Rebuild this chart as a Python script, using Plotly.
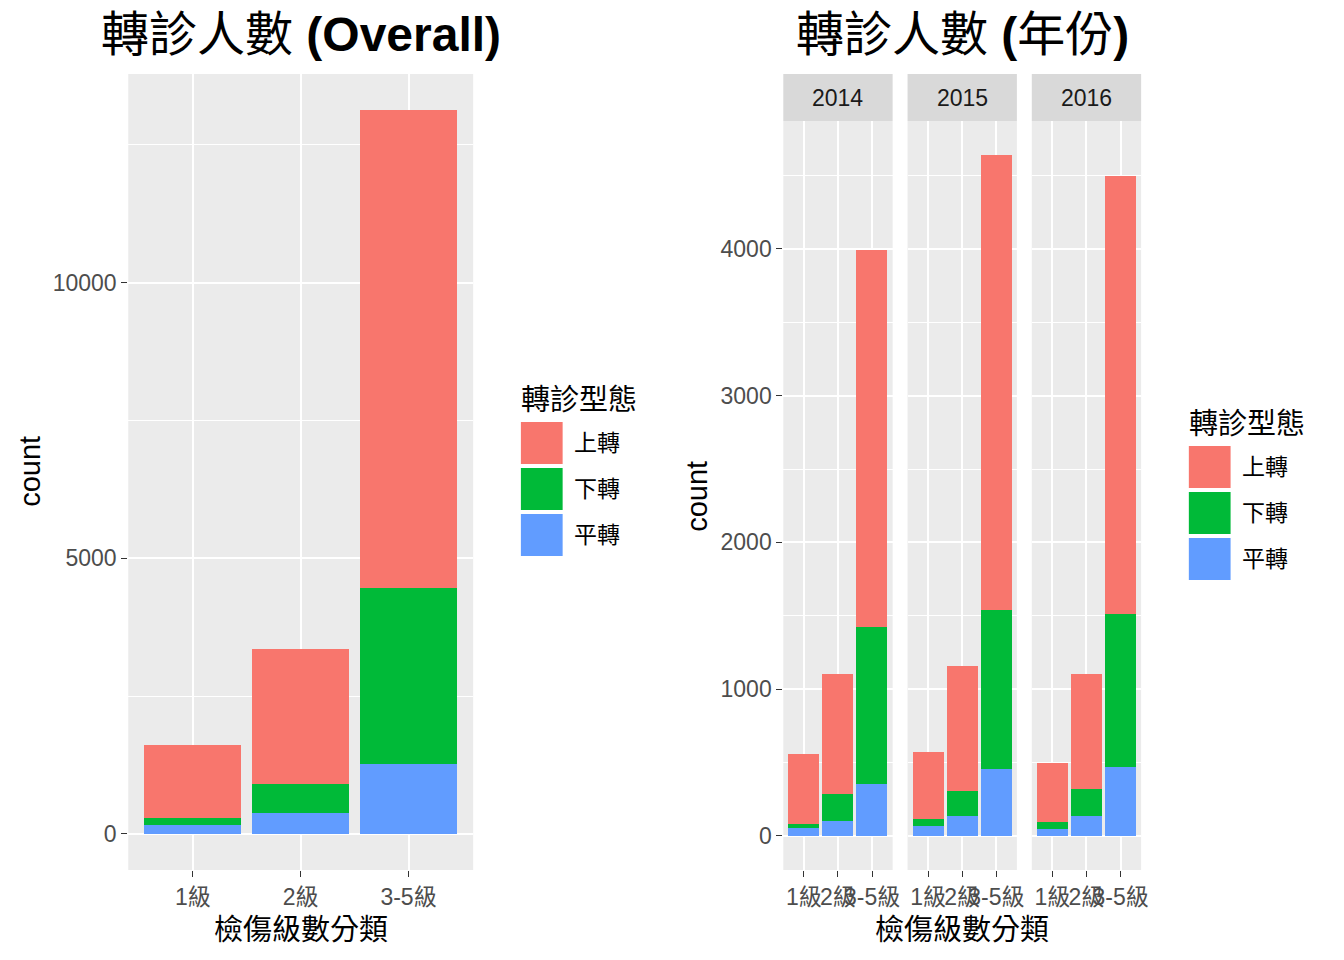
import plotly.graph_objects as go

# categories and series
grades = ["1級", "2級", "3-5級"]
years = ["2014", "2015", "2016"]
types = ["上轉", "下轉", "平轉"]
colors = {"上轉": "#F8766D", "下轉": "#00BA38", "平轉": "#619CFF"}

# counts per year
flat_2014 = [52, 102, 352]
down_2014 = [28, 182, 1070]
up_2014 = [477, 818, 2571]

flat_2015 = [66, 134, 454]
down_2015 = [48, 170, 1083]
up_2015 = [455, 852, 3102]

flat_2016 = [46, 134, 467]
down_2016 = [47, 184, 1043]
up_2016 = [401, 784, 2987]

by_year = {
    "2014": {"上轉": up_2014, "下轉": down_2014, "平轉": flat_2014},
    "2015": {"上轉": up_2015, "下轉": down_2015, "平轉": flat_2015},
    "2016": {"上轉": up_2016, "下轉": down_2016, "平轉": flat_2016},
}

# the page body keeps its default 8px margin on every side, so the figure
# is made small enough that the page never needs scrollbars
OFF = 8
W, H = 1344 - 2 * OFF, 960 - 2 * OFF
FONT = "Liberation Sans, Arial, Noto Sans CJK TC"


def px(x):
    return (x - OFF) / W


def py(y):
    return 1 - (y - OFF) / H


fig = go.Figure()

# Overall panel: totals across years, stacked bottom-up 平轉, 下轉, 上轉
for t in ["平轉", "下轉", "上轉"]:
    total = [sum(by_year[y][t][i] for y in years) for i in range(3)]
    fig.add_trace(go.Bar(x=grades, y=total, marker=dict(color=colors[t], line=dict(width=0)),
                         width=0.9, xaxis="x", yaxis="y", showlegend=False, name=t))

# Faceted panels
for k, yr in enumerate(years):
    xa = "x" + str(k + 2)
    ya = "y" + str(k + 2)
    for t in ["平轉", "下轉", "上轉"]:
        fig.add_trace(go.Bar(x=grades, y=by_year[yr][t], marker=dict(color=colors[t], line=dict(width=0)),
                             width=0.9, xaxis=xa, yaxis=ya, showlegend=False, name=t))

grid = dict(showgrid=True, gridcolor="white", gridwidth=1.6, zeroline=False, showline=False)
tickfont = dict(family=FONT, size=23, color="#4D4D4D")

layout = dict(
    width=W, height=H, autosize=False, barmode="stack", bargap=0,
    margin=dict(l=0, r=0, t=0, b=0),
    paper_bgcolor="white", plot_bgcolor="#EBEBEB",
    font=dict(family=FONT),
    showlegend=False,
)

# left panel axes
layout["xaxis"] = dict(domain=[px(129), px(476)], anchor="y", type="category", range=[-0.6, 2.6],
                       ticks="outside", ticklen=6, tickcolor="#333333", tickfont=tickfont, tickangle=0, **grid)
layout["yaxis"] = dict(domain=[py(870), py(74)], anchor="x", range=[-656, 13785],
                       tickvals=[0, 5000, 10000], ticktext=["0", "5000", "10000"],
                       ticks="outside", ticklen=6, tickcolor="#333333",
                       tickfont=tickfont,
                       minor=dict(tickvals=[2500, 7500, 12500], showgrid=True, gridcolor="white", gridwidth=0.8),
                       **grid)

facet_x = [(788, 898), (913, 1023), (1038, 1148)]
for k, (x0, x1) in enumerate(facet_x):
    n = str(k + 2)
    layout["xaxis" + n] = dict(domain=[px(x0), px(x1)], anchor="y" + n, type="category", range=[-0.6, 2.6],
                               ticks="outside", ticklen=6, tickcolor="#333333", tickfont=tickfont,
                               tickangle=0, **grid)
    layout["yaxis" + n] = dict(domain=[py(870), py(121)], anchor="x" + n, range=[-232, 4871],
                               tickvals=[0, 1000, 2000, 3000, 4000],
                               ticktext=["0", "1000", "2000", "3000", "4000"],
                               ticks="outside" if k == 0 else "", ticklen=6, tickcolor="#333333",
                               showticklabels=(k == 0), tickfont=tickfont,
                               minor=dict(tickvals=[500, 1500, 2500, 3500, 4500], showgrid=True,
                                          gridcolor="white", gridwidth=0.8),
                               **grid)

fig.update_layout(**layout)

shapes = []
annotations = []

# facet strips
for (x0, x1), yr in zip(facet_x, years):
    shapes.append(dict(type="rect", xref="paper", yref="paper", x0=px(x0), x1=px(x1), y0=py(121), y1=py(74),
                       fillcolor="#D9D9D9", line=dict(width=0), layer="below"))
    annotations.append(dict(x=px((x0 + x1) / 2), y=py(98), xref="paper", yref="paper", text=yr, showarrow=False,
                            font=dict(family=FONT, size=23, color="#1A1A1A"), xanchor="center", yanchor="middle"))

# titles
annotations.append(dict(x=px(303), y=py(35), xref="paper", yref="paper", text="轉診人數 <b>(Overall)</b>",
                        showarrow=False, font=dict(family=FONT, size=48, color="black"),
                        xanchor="center", yanchor="middle"))
annotations.append(dict(x=px(968), y=py(35), xref="paper", yref="paper", text="轉診人數 <b>(</b>年份<b>)</b>",
                        showarrow=False, font=dict(family=FONT, size=48, color="black"),
                        xanchor="center", yanchor="middle"))

# axis titles
for cx in [302.5, 968]:
    annotations.append(dict(x=px(cx), y=py(930), xref="paper", yref="paper", text="檢傷級數分類", showarrow=False,
                            font=dict(family=FONT, size=29, color="black"), xanchor="center", yanchor="middle"))
for cx, cy in [(30, 471), (701, 496)]:
    annotations.append(dict(x=px(cx), y=py(cy), xref="paper", yref="paper", text="count", showarrow=False,
                            textangle=-90, font=dict(family=FONT, size=29, color="black"),
                            xanchor="center", yanchor="middle"))

# legends (drawn manually to get ggplot-sized keys)
for lx, ly in [(522, 400), (1194, 424)]:
    annotations.append(dict(x=px(lx), y=py(ly), xref="paper", yref="paper", text="轉診型態", showarrow=False,
                            font=dict(family=FONT, size=29, color="black"), xanchor="left", yanchor="middle"))
    for i, t in enumerate(types):
        top = ly + 22 + i * 46
        shapes.append(dict(type="rect", xref="paper", yref="paper", x0=px(lx + 2), x1=px(lx + 44),
                           y0=py(top + 42), y1=py(top), fillcolor=colors[t], line=dict(width=0)))
        annotations.append(dict(x=px(lx + 53), y=py(top + 21), xref="paper", yref="paper", text=t,
                                showarrow=False, font=dict(family=FONT, size=23, color="black"),
                                xanchor="left", yanchor="middle"))

fig.update_layout(shapes=shapes, annotations=annotations)

fig.write_html("out.html", config={"displayModeBar": False, "responsive": False})
